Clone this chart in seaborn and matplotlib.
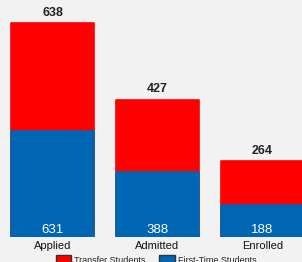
import pandas as pd
import matplotlib
matplotlib.use("Agg")
import matplotlib.pyplot as plt
import seaborn as sns
from matplotlib.patches import Patch

#=============================================================================
# data
#=============================================================================
stages = ["Applied", "Admitted", "Enrolled"]
first_time = [631, 388, 188]
transfer = [638, 427, 264]

RED = "#ff0000"
BLUE = "#0066b3"
BG = "#f2f2f2"

df = pd.DataFrame({"stage": stages, "first_time": first_time, "transfer": transfer})
df["total"] = df["first_time"] + df["transfer"]

sns.set_style("white")
plt.rcParams["font.family"] = ["Liberation Sans", "DejaVu Sans"]

fig = plt.figure(figsize=(3.02, 2.62), dpi=100)
fig.patch.set_facecolor(BG)
ax = fig.add_axes([0, 25 / 262, 1, 237 / 262])
ax.set_facecolor(BG)

# stacked: total in red, first-time in blue over it
sns.barplot(data=df, x="stage", y="total", color=RED, width=0.79,
            saturation=1, ax=ax, edgecolor=RED, linewidth=1.2)
sns.barplot(data=df, x="stage", y="first_time", color=BLUE, width=0.79,
            saturation=1, ax=ax, edgecolor=BLUE, linewidth=1.2)
for p in ax.patches:
    p.set_joinstyle("round")

ax.set_xlim(-0.5, -0.5 + 302 / 105)
ax.set_ylim(0, 1405)

for i, row in df.iterrows():
    ax.text(i, row["total"] + 25, str(row["transfer"]), ha="center", va="bottom",
            fontsize=9, fontweight="bold", color="#222222")
    ax.text(i, 8, str(row["first_time"]), ha="center", va="bottom",
            fontsize=9.5, color="white")

ax.set_xlabel("")
ax.set_ylabel("")
ax.set_yticks([])
ax.tick_params(axis="x", length=0, pad=3, labelsize=8, labelcolor="#111111")
sns.despine(ax=ax, left=True, bottom=True)

handles = [Patch(facecolor=RED, edgecolor="#333333", label="Transfer Students"),
           Patch(facecolor=BLUE, edgecolor="#333333", label="First-Time Students")]
fig.legend(handles=handles, loc="upper center", bbox_to_anchor=(0.517, 1 - 249 / 262),
           ncol=2, frameon=False, fontsize=6.5, handlelength=1.7, handleheight=1.2,
           columnspacing=1.5, handletextpad=0.35, borderpad=0.2)

fig.savefig("out.png", dpi=100, facecolor=BG)
